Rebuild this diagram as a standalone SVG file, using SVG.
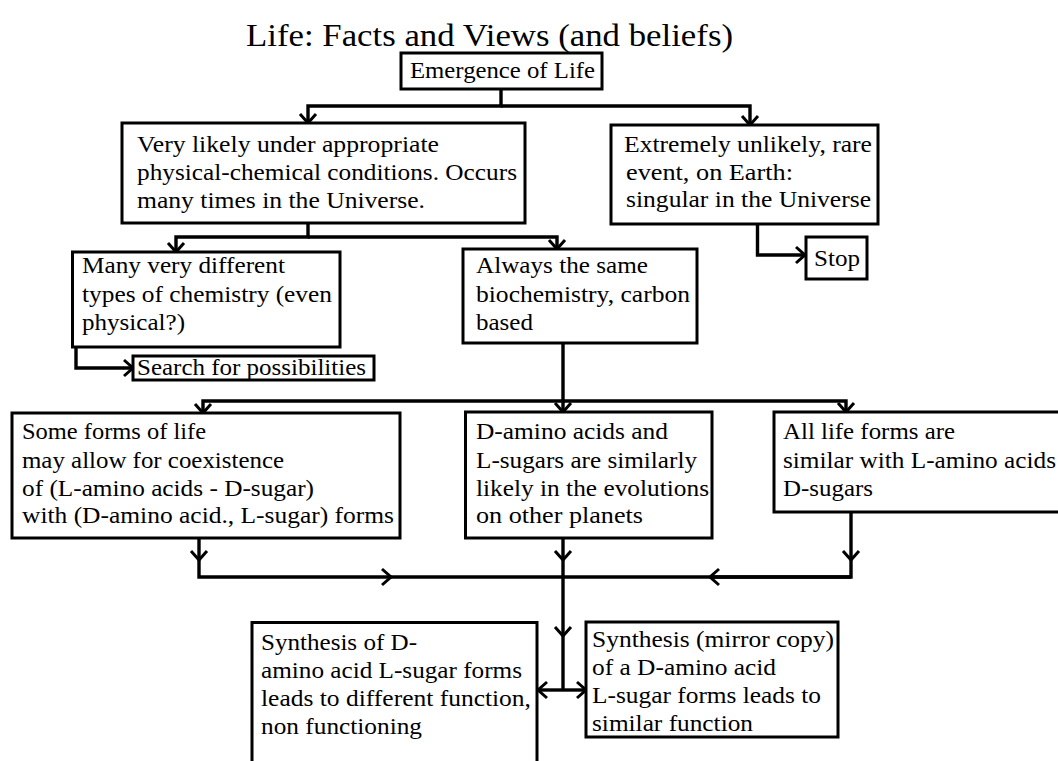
<svg xmlns="http://www.w3.org/2000/svg" width="1058" height="761" viewBox="0 0 1058 761">
<defs>
<style>
text{font-family:"Liberation Serif","Times New Roman",serif;font-size:23.5px;fill:#000}
.title{font-size:32px}
.box{fill:#fff;stroke:#000;stroke-width:3}
.con{fill:none;stroke:#000;stroke-width:3.4}
</style>
<marker id="ah" markerUnits="userSpaceOnUse" markerWidth="22" markerHeight="22" viewBox="-12 -11 14 22" refX="0" refY="0" orient="auto">
<path d="M-9,-8 L0,0 L-9,8" fill="none" stroke="#000" stroke-width="3"/>
</marker>
</defs>
<rect width="1058" height="761" fill="#fff"/>
<text class="title" x="489.5" y="46" text-anchor="middle" textLength="487" lengthAdjust="spacingAndGlyphs">Life: Facts and Views (and beliefs)</text>

<g id="connectors">
<path class="con" d="M501,89 V106 H308 V123" marker-end="url(#ah)"/>
<path class="con" d="M501,106 H750 V125" marker-end="url(#ah)"/>
<path class="con" d="M308,223 V237 H176 V252" marker-end="url(#ah)"/>
<path class="con" d="M308,237 H557 V249" marker-end="url(#ah)"/>
<path class="con" d="M757.5,224 V255 H805" marker-end="url(#ah)"/>
<path class="con" d="M76,347 V368 H133" marker-end="url(#ah)"/>
<path class="con" d="M563,343 V401 H203 V413" marker-end="url(#ah)"/>
<path class="con" d="M563,401 V412" marker-end="url(#ah)"/>
<path class="con" d="M563,401 H846 V412" marker-end="url(#ah)"/>
<path class="con" d="M199,538 V560" marker-end="url(#ah)"/>
<path class="con" d="M199,560 V577 H391" marker-end="url(#ah)"/>
<path class="con" d="M391,577 H851"/>
<path class="con" d="M851,512 V560" marker-end="url(#ah)"/>
<path class="con" d="M851,560 V577 H710" marker-end="url(#ah)"/>
<path class="con" d="M563,538 V560" marker-end="url(#ah)"/>
<path class="con" d="M563,560 V636" marker-end="url(#ah)"/>
<path class="con" d="M563,636 V690"/>
<path class="con" d="M563,690 H538" marker-end="url(#ah)"/>
<path class="con" d="M563,690 H586" marker-end="url(#ah)"/>
</g>

<g id="n-emergence">
<rect class="box" x="401" y="53" width="201" height="36"/>
<text x="410" y="78" textLength="185" lengthAdjust="spacingAndGlyphs">Emergence of Life</text>
</g>
<g id="n-likely">
<rect class="box" x="122" y="123" width="403" height="100"/>
<text x="137" y="152" textLength="302" lengthAdjust="spacingAndGlyphs">Very likely under appropriate</text>
<text x="137" y="180" textLength="380" lengthAdjust="spacingAndGlyphs">physical-chemical conditions. Occurs</text>
<text x="137" y="208" textLength="288" lengthAdjust="spacingAndGlyphs">many times in the Universe.</text>
</g>
<g id="n-unlikely">
<rect class="box" x="611" y="125" width="267" height="99"/>
<text x="624" y="152" textLength="248" lengthAdjust="spacingAndGlyphs">Extremely unlikely, rare</text>
<text x="626" y="180" textLength="167" lengthAdjust="spacingAndGlyphs">event, on Earth:</text>
<text x="626" y="207" textLength="245" lengthAdjust="spacingAndGlyphs">singular in the Universe</text>
</g>
<g id="n-stop">
<rect class="box" x="806" y="237" width="61" height="42"/>
<text x="814" y="266" textLength="46" lengthAdjust="spacingAndGlyphs">Stop</text>
</g>
<g id="n-many">
<rect class="box" x="72.5" y="252" width="267.5" height="95"/>
<text x="82" y="273" textLength="203" lengthAdjust="spacingAndGlyphs">Many very different</text>
<text x="82" y="302" textLength="250" lengthAdjust="spacingAndGlyphs">types of chemistry (even</text>
<text x="82" y="330" textLength="103" lengthAdjust="spacingAndGlyphs">physical?)</text>
</g>
<g id="n-search">
<rect class="box" x="133" y="356" width="241" height="24"/>
<text x="137" y="375" textLength="229" lengthAdjust="spacingAndGlyphs">Search for possibilities</text>
</g>
<g id="n-same">
<rect class="box" x="463" y="249" width="234" height="94"/>
<text x="476" y="273" textLength="172" lengthAdjust="spacingAndGlyphs">Always the same</text>
<text x="476" y="302" textLength="214" lengthAdjust="spacingAndGlyphs">biochemistry, carbon</text>
<text x="476" y="330" textLength="57" lengthAdjust="spacingAndGlyphs">based</text>
</g>
<g id="n-some">
<rect class="box" x="12" y="413" width="388" height="125"/>
<text x="22" y="439" textLength="184" lengthAdjust="spacingAndGlyphs">Some forms of life</text>
<text x="22" y="468" textLength="262" lengthAdjust="spacingAndGlyphs">may allow for coexistence</text>
<text x="22" y="496" textLength="292" lengthAdjust="spacingAndGlyphs">of (L-amino acids - D-sugar)</text>
<text x="22" y="523" textLength="372" lengthAdjust="spacingAndGlyphs">with (D-amino acid., L-sugar) forms</text>
</g>
<g id="n-damino">
<rect class="box" x="465.5" y="412" width="246.5" height="126"/>
<text x="476" y="439" textLength="192" lengthAdjust="spacingAndGlyphs">D-amino acids and</text>
<text x="476" y="468" textLength="221" lengthAdjust="spacingAndGlyphs">L-sugars are similarly</text>
<text x="476" y="496" textLength="233" lengthAdjust="spacingAndGlyphs">likely in the evolutions</text>
<text x="476" y="523" textLength="167" lengthAdjust="spacingAndGlyphs">on other planets</text>
</g>
<g id="n-all">
<rect class="box" x="774" y="412" width="300" height="100"/>
<text x="783" y="439" textLength="172" lengthAdjust="spacingAndGlyphs">All life forms are</text>
<text x="783" y="468" textLength="273" lengthAdjust="spacingAndGlyphs">similar with L-amino acids</text>
<text x="783" y="496" textLength="90" lengthAdjust="spacingAndGlyphs">D-sugars</text>
</g>
<g id="n-synth-d">
<rect class="box" x="252" y="622.5" width="285" height="155"/>
<text x="261" y="650" textLength="156" lengthAdjust="spacingAndGlyphs">Synthesis of D-</text>
<text x="261" y="678" textLength="261" lengthAdjust="spacingAndGlyphs">amino acid L-sugar forms</text>
<text x="261" y="706" textLength="270" lengthAdjust="spacingAndGlyphs">leads to different function,</text>
<text x="261" y="734" textLength="161" lengthAdjust="spacingAndGlyphs">non functioning</text>
</g>
<g id="n-synth-mirror">
<rect class="box" x="586" y="622" width="252" height="115"/>
<text x="592" y="647" textLength="242" lengthAdjust="spacingAndGlyphs">Synthesis (mirror copy)</text>
<text x="592" y="675" textLength="184" lengthAdjust="spacingAndGlyphs">of a D-amino acid</text>
<text x="592" y="703" textLength="229" lengthAdjust="spacingAndGlyphs">L-sugar forms leads to</text>
<text x="592" y="731" textLength="161" lengthAdjust="spacingAndGlyphs">similar function</text>
</g>
</svg>
